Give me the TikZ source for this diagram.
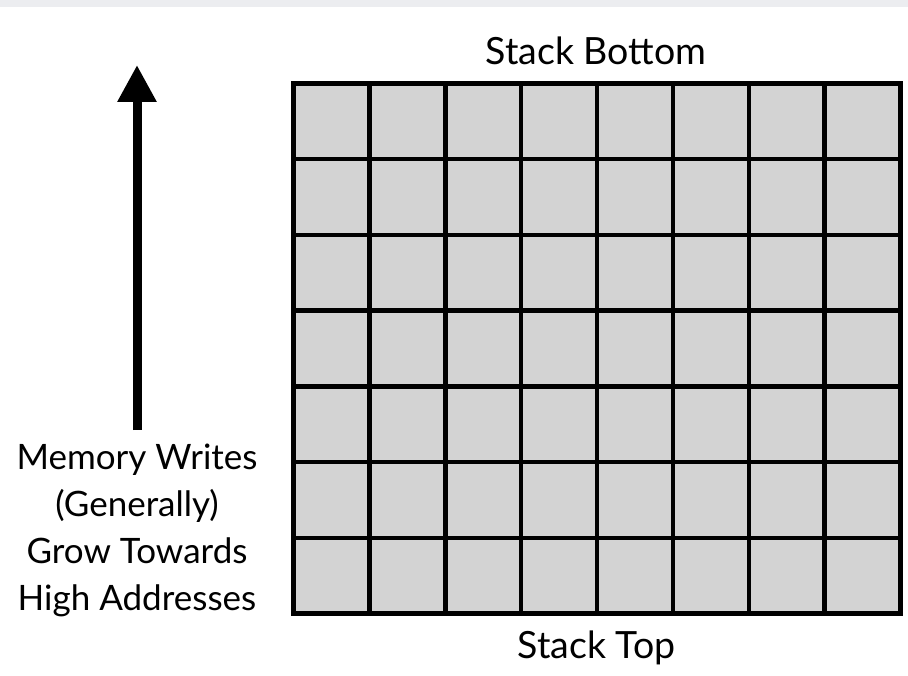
\documentclass[tikz,border=0pt]{standalone}
\usepackage{fontspec}
\setmainfont{Lato}
\usetikzlibrary{arrows.meta}
\definecolor{cellgray}{HTML}{D3D3D3}
\definecolor{bandgray}{HTML}{ECEDF0}
\tikzset{
  label text/.style={font=\fontsize{35}{46.5}\selectfont, inner sep=0pt, anchor=base},
  end text/.style={label text, font=\fontsize{37.5}{46.5}\selectfont},
  grid line/.style={line width=4.5pt, black},
  growth arrow/.style={line width=9pt, -{Triangle[width=37pt,length=37pt]}},
}
\begin{document}
\begin{tikzpicture}[x=1pt,y=-1pt]
  % canvas and top band
  \useasboundingbox (0,0) rectangle (908,676);
  \fill[white] (0,0) rectangle (908,676);
  \fill[bandgray] (0,0) rectangle (908,7.5);

  % stack cells: 8 columns x 7 rows
  \fill[cellgray] (293.5,83.5) rectangle (900.5,613.5);
  \foreach \i in {1,...,7}
    \draw[grid line] ({293.5+\i*75.875},83.5) -- ({293.5+\i*75.875},613.5);
  \foreach \j in {1,...,6}
    \draw[grid line] (293.5,{83.5+\j*75.714}) -- (900.5,{83.5+\j*75.714});
  \draw[grid line] (293.5,83.5) rectangle (900.5,613.5);

  % labels
  \node[end text] (bottom) at (596,64.3) {Stack Bottom};
  \node[end text] (top) at (596.5,658.3) {Stack Top};
  \node[label text] (l1) at (137,469.3) {Memory Writes};
  \node[label text] (l2) at (137,516.2) {(Generally)};
  \node[label text] (l3) at (137,563.1) {Grow Towards};
  \node[label text] (l4) at (137,610) {High Addresses};

  % growth direction arrow
  \coordinate (arrowfoot) at (137,430);
  \coordinate (arrowtip) at (137,65);
  \draw[growth arrow] (arrowfoot) -- (arrowtip);
\end{tikzpicture}
\end{document}
